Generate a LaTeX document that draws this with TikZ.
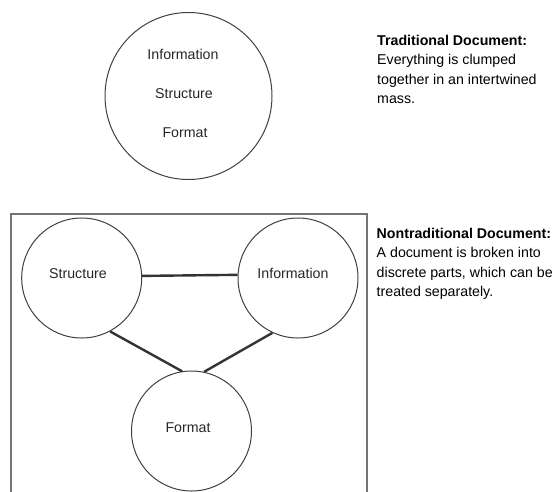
\documentclass[tikz,border=0pt]{standalone}
\usepackage{fontspec}
\setmainfont{Liberation Sans}
\begin{document}
\begin{tikzpicture}[x=1pt,y=-1pt,
  every node/.style={font=\fontsize{14.2}{19.4}\selectfont},
  bigcirc/.style={circle,draw=black!75,line width=1pt,inner sep=0pt,minimum size=167pt},
  partcirc/.style={circle,draw=black!75,line width=1pt,inner sep=0pt,minimum size=120pt},
  lbl/.style={anchor=base,inner sep=0pt,text=black!85},
  link/.style={line width=2.4pt,draw=black!80},
  frame/.style={line width=1.2pt,draw=black!55},
  note/.style={anchor=north west,align=left,inner sep=0pt}]
\useasboundingbox (0,0) rectangle (557,491);
\clip (0,0) rectangle (557,491);
% traditional document
\node[bigcirc] (trad) at (188.5,96) {};
\node[lbl] (tinfo) at (183,59) {Information};
\node[lbl] (tstruc) at (184,98) {Structure};
\node[lbl] (tform) at (185,137.5) {Format};
\node[note] (tnote) at (377,35) {\textbf{Traditional Document:}\\Everything is clumped\\together in an intertwined\\mass.};
% nontraditional document
\coordinate (fbl) at (11,520);
\coordinate (ftl) at (11,214);
\coordinate (ftr) at (367,214);
\coordinate (fbr) at (367,520);
\draw[frame] (fbl) -- (ftl) -- (ftr) -- (fbr);
\node[partcirc] (S) at (81.7,278) {};
\node[partcirc] (I) at (298,278) {};
\node[partcirc] (F) at (191.5,431) {};
\node[lbl] (slbl) at (78,278) {Structure};
\node[lbl] (ilbl) at (293,278) {Information};
\node[lbl] (flbl) at (188,432) {Format};
\draw[link] (S.2.9) -- (I.177.1);
\draw[link] (S.-62.7) -- (F.99.3);
\draw[link] (I.-115.3) -- (F.78.8);
\node[note] (nnote) at (376.5,228) {\textbf{Nontraditional Document:}\\A document is broken into\\discrete parts, which can be\\treated separately.};
\end{tikzpicture}
\end{document}
